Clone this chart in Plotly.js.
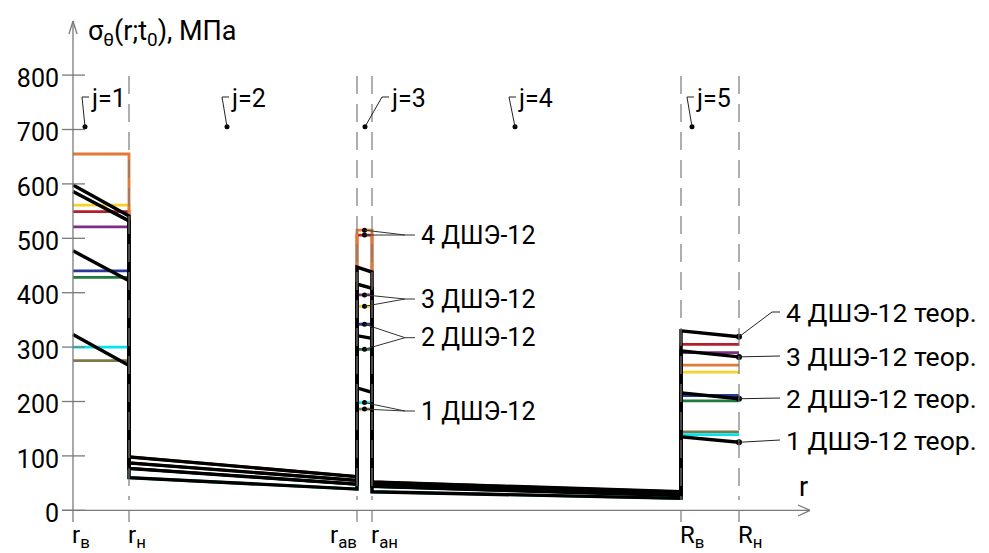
<!DOCTYPE html>
<html><head><meta charset="utf-8">
<script src="https://cdn.plot.ly/plotly-3.0.1.min.js"></script>
<style>html,body{margin:0;padding:0;background:#fff}</style>
</head><body>
<div id="chart" style="width:989px;height:553px"></div>
<script>
// ---- data ----
// layer boundary radii (drawing units): rв, rн, rав, rан, Rв, Rн
const boundaryNames = ['r<sub>в</sub>', 'r<sub>н</sub>', 'r<sub>ав</sub>', 'r<sub>ан</sub>', 'R<sub>в</sub>', 'R<sub>н</sub>'];
const boundaryR = [0, 56, 284, 299, 608, 666];
const yTicks = [0, 100, 200, 300, 400, 500, 600, 700, 800];
const layerLabels = ['j=1', 'j=2', 'j=3', 'j=4', 'j=5'];
const layerLabelR = [12, 154, 292, 442, 619];
const layerLabelLevel = 705;

// theoretical curves (black): value at start and end of each layer j=1..5
const theory1 = [323, 266, 60, 39, 225, 217, 34, 22, 135, 125];
const theory2 = [477, 422, 77, 48, 321, 316, 44, 27, 216, 205];
const theory3 = [586, 532, 87, 55, 416, 408, 48, 30, 293, 282];
const theory4 = [598, 541, 98, 62, 447, 438, 52, 34, 330, 319];
const theoryNames = ['1 ДШЭ-12 теор.', '2 ДШЭ-12 теор.', '3 ДШЭ-12 теор.', '4 ДШЭ-12 теор.'];

// measured values (colored), constant in layers j=1, j=3, j=5
const exp4a = [655, 515, 267];   // orange
const exp4b = [549, 506, 305];   // red
const exp3b = [561, 375, 254];   // yellow
const exp3a = [521, 396, 290];   // purple
const exp2a = [440, 342, 211];   // blue
const exp2b = [428, 296, 201];   // green
const exp1a = [300, 198, 139];   // cyan
const exp1b = [275, 186, 144];   // olive
const expNames = ['1 ДШЭ-12', '2 ДШЭ-12', '3 ДШЭ-12', '4 ДШЭ-12'];

// ---- helpers (pixel -> axis units, for decorations only) ----
const PX0 = 73, PY0 = 510.3, KY = 0.544;
const X = px => px - PX0;
const Y = py => (PY0 - py) / KY;

const rv = boundaryR[0], rn = boundaryR[1], rav = boundaryR[2], ran = boundaryR[3], Rv = boundaryR[4], Rn = boundaryR[5];
const xPath = [rv, rn, rn, rav, rav, ran, ran, Rv, Rv, Rn];
const theories = [theory1, theory2, theory3, theory4];

function expTrace(vals, th, color) {
  return {
    x: xPath,
    y: [vals[0], vals[0], th[2], th[3], vals[1], vals[1], th[6], th[7], vals[2], vals[2]],
    mode: 'lines', line: {color: color, width: 2.8}, hoverinfo: 'skip'
  };
}

const traces = [
  expTrace(exp3b, theory3, '#f5d327'),
  expTrace(exp4b, theory4, '#b3202c'),
  expTrace(exp4a, theory4, '#e07b35'),
  expTrace(exp3a, theory3, '#7b2f83'),
  expTrace(exp2a, theory2, '#2a3898'),
  expTrace(exp2b, theory2, '#1f7a3d'),
  expTrace(exp1b, theory1, '#7f7a45'),
  expTrace(exp1a, theory1, '#00e6ef')
];
theories.forEach(th => traces.push({
  x: xPath, y: th, mode: 'lines', line: {color: '#000', width: 3.4}, hoverinfo: 'skip'
}));

// dots on measured values in j=3 and on theory ends at Rн
const exps = [[exp1a, exp1b], [exp2a, exp2b], [exp3a, exp3b], [exp4a, exp4b]];
const midJ3 = (rav + ran) / 2;
const j3y = [];
exps.forEach(p => { j3y.push(p[0][1], p[1][1]); });
traces.push({x: j3y.map(() => midJ3), y: j3y, mode: 'markers', marker: {color: '#000', size: 5}, hoverinfo: 'skip'});
traces.push({x: theories.map(() => Rn), y: theories.map(t => t[9]), mode: 'markers', marker: {color: '#000', size: 6}, hoverinfo: 'skip'});
traces.push({x: layerLabelR, y: layerLabelR.map(() => layerLabelLevel), mode: 'markers', marker: {color: '#000', size: 5}, hoverinfo: 'skip'});

// ---- decorations ----
const gray = '#7a7a7a';
const shapes = [];
function seg(x0, y0, x1, y1, color, width, dash) {
  shapes.push({type: 'line', xref: 'x', yref: 'y', x0, y0, x1, y1, line: {color, width, dash: dash || 'solid'}});
}
// y axis with arrow
seg(rv, Y(522), rv, Y(21), gray, 1.3);
seg(rv, Y(21), X(69), Y(34), gray, 1.3);
seg(rv, Y(21), X(77), Y(34), gray, 1.3);
// x axis with arrow
seg(X(62), 0, X(810), 0, gray, 1.3);
seg(X(810), 0, X(798), Y(505), gray, 1.3);
seg(X(810), 0, X(798), Y(516), gray, 1.3);
// y ticks
yTicks.forEach(v => seg(X(62), v, X(85), v, gray, 1.3));
// boundary dashed lines and bottom ticks
boundaryR.slice(1).forEach(r => {
  seg(r, Y(76), r, Y(500), gray, 1.2, '18px,10px');
  seg(r, 0, r, Y(522), gray, 1.2);
});

// layer label leaders
const leaderDx = [-3, -5, 17, -6, -5];
layerLabelR.forEach((r, i) => {
  const tx = r + leaderDx[i];
  seg(r, layerLabelLevel, tx, Y(97), '#222', 1);
  seg(tx, Y(97), tx + 7, Y(97), '#222', 1);
});

const annotations = [];
layerLabels.forEach((t, i) => {
  annotations.push({x: layerLabelR[i] + leaderDx[i] + 7, y: Y(98), xref: 'x', yref: 'y', text: t,
    showarrow: false, xanchor: 'left', yanchor: 'middle', font: {size: 25, color: '#000'}});
});

// middle labels (experimental) with fan leaders
const midLabelY = [Y(411), Y(337.7), Y(299), Y(235)];
exps.forEach((p, i) => {
  const ly = midLabelY[i];
  seg(midJ3, p[0][1], X(405), ly, '#333', 1);
  seg(midJ3, p[1][1], X(405), ly, '#333', 1);
  seg(X(405), ly, X(415), ly, '#333', 1);
  annotations.push({x: X(419), y: ly, xref: 'x', yref: 'y', text: expNames[i], showarrow: false,
    xanchor: 'left', yanchor: 'middle', font: {size: 25, color: '#000'}});
});

// right labels (theory)
const rightLabelY = [Y(440), Y(398), Y(356), Y(312)];
theories.forEach((th, i) => {
  const ly = rightLabelY[i];
  if (i === 3) {
    seg(Rn, th[9], X(772), ly, '#222', 1);
    seg(X(772), ly, X(780), ly, '#222', 1);
  } else {
    seg(Rn, th[9], X(780), ly, '#222', 1);
  }
  annotations.push({x: X(784), y: ly, xref: 'x', yref: 'y', text: theoryNames[i], showarrow: false,
    xanchor: 'left', yanchor: 'middle', font: {size: 26.5, color: '#000'}});
});

// boundary labels under the axis
boundaryR.forEach((r, i) => {
  const right = (i === 2);
  annotations.push({x: r, y: (530 - 536) / 515, xref: 'x', yref: 'paper', text: boundaryNames[i],
    showarrow: false, xanchor: right ? 'right' : 'left', xshift: right ? 2 : -3, yanchor: 'middle',
    font: {size: 24, color: '#000'}});
});
// axis name r
annotations.push({x: X(803), y: Y(487), xref: 'x', yref: 'y', text: 'r', showarrow: false,
  xanchor: 'center', yanchor: 'middle', font: {size: 27, color: '#000'}});

const layout = {
  width: 989, height: 553,
  margin: {l: 60, r: 159, t: 15, b: 23, pad: 0},
  paper_bgcolor: '#fff', plot_bgcolor: '#fff',
  font: {family: 'Roboto, "DejaVu Sans", sans-serif', color: '#000'},
  showlegend: false, hovermode: false,
  title: {text: 'σ<sub>θ</sub>(r;t<sub>0</sub>), МПа', x: 88 / 989, xref: 'container', xanchor: 'left',
    y: 1 - 31 / 553, yref: 'container', yanchor: 'middle', font: {size: 27, color: '#000'}},
  xaxis: {range: [X(60), X(830)], showgrid: false, zeroline: false, showline: false,
    showticklabels: false, ticks: '', fixedrange: true},
  yaxis: {range: [Y(530), Y(15)], showgrid: false, zeroline: false, showline: false,
    tickmode: 'array', tickvals: yTicks, ticktext: yTicks.map(String), ticks: '',
    tickfont: {size: 25, color: '#000'}, ticklabelshift: 3, fixedrange: true},
  shapes, annotations
};

Plotly.newPlot('chart', traces, layout, {displayModeBar: false, staticPlot: true});
</script>
</body></html>
